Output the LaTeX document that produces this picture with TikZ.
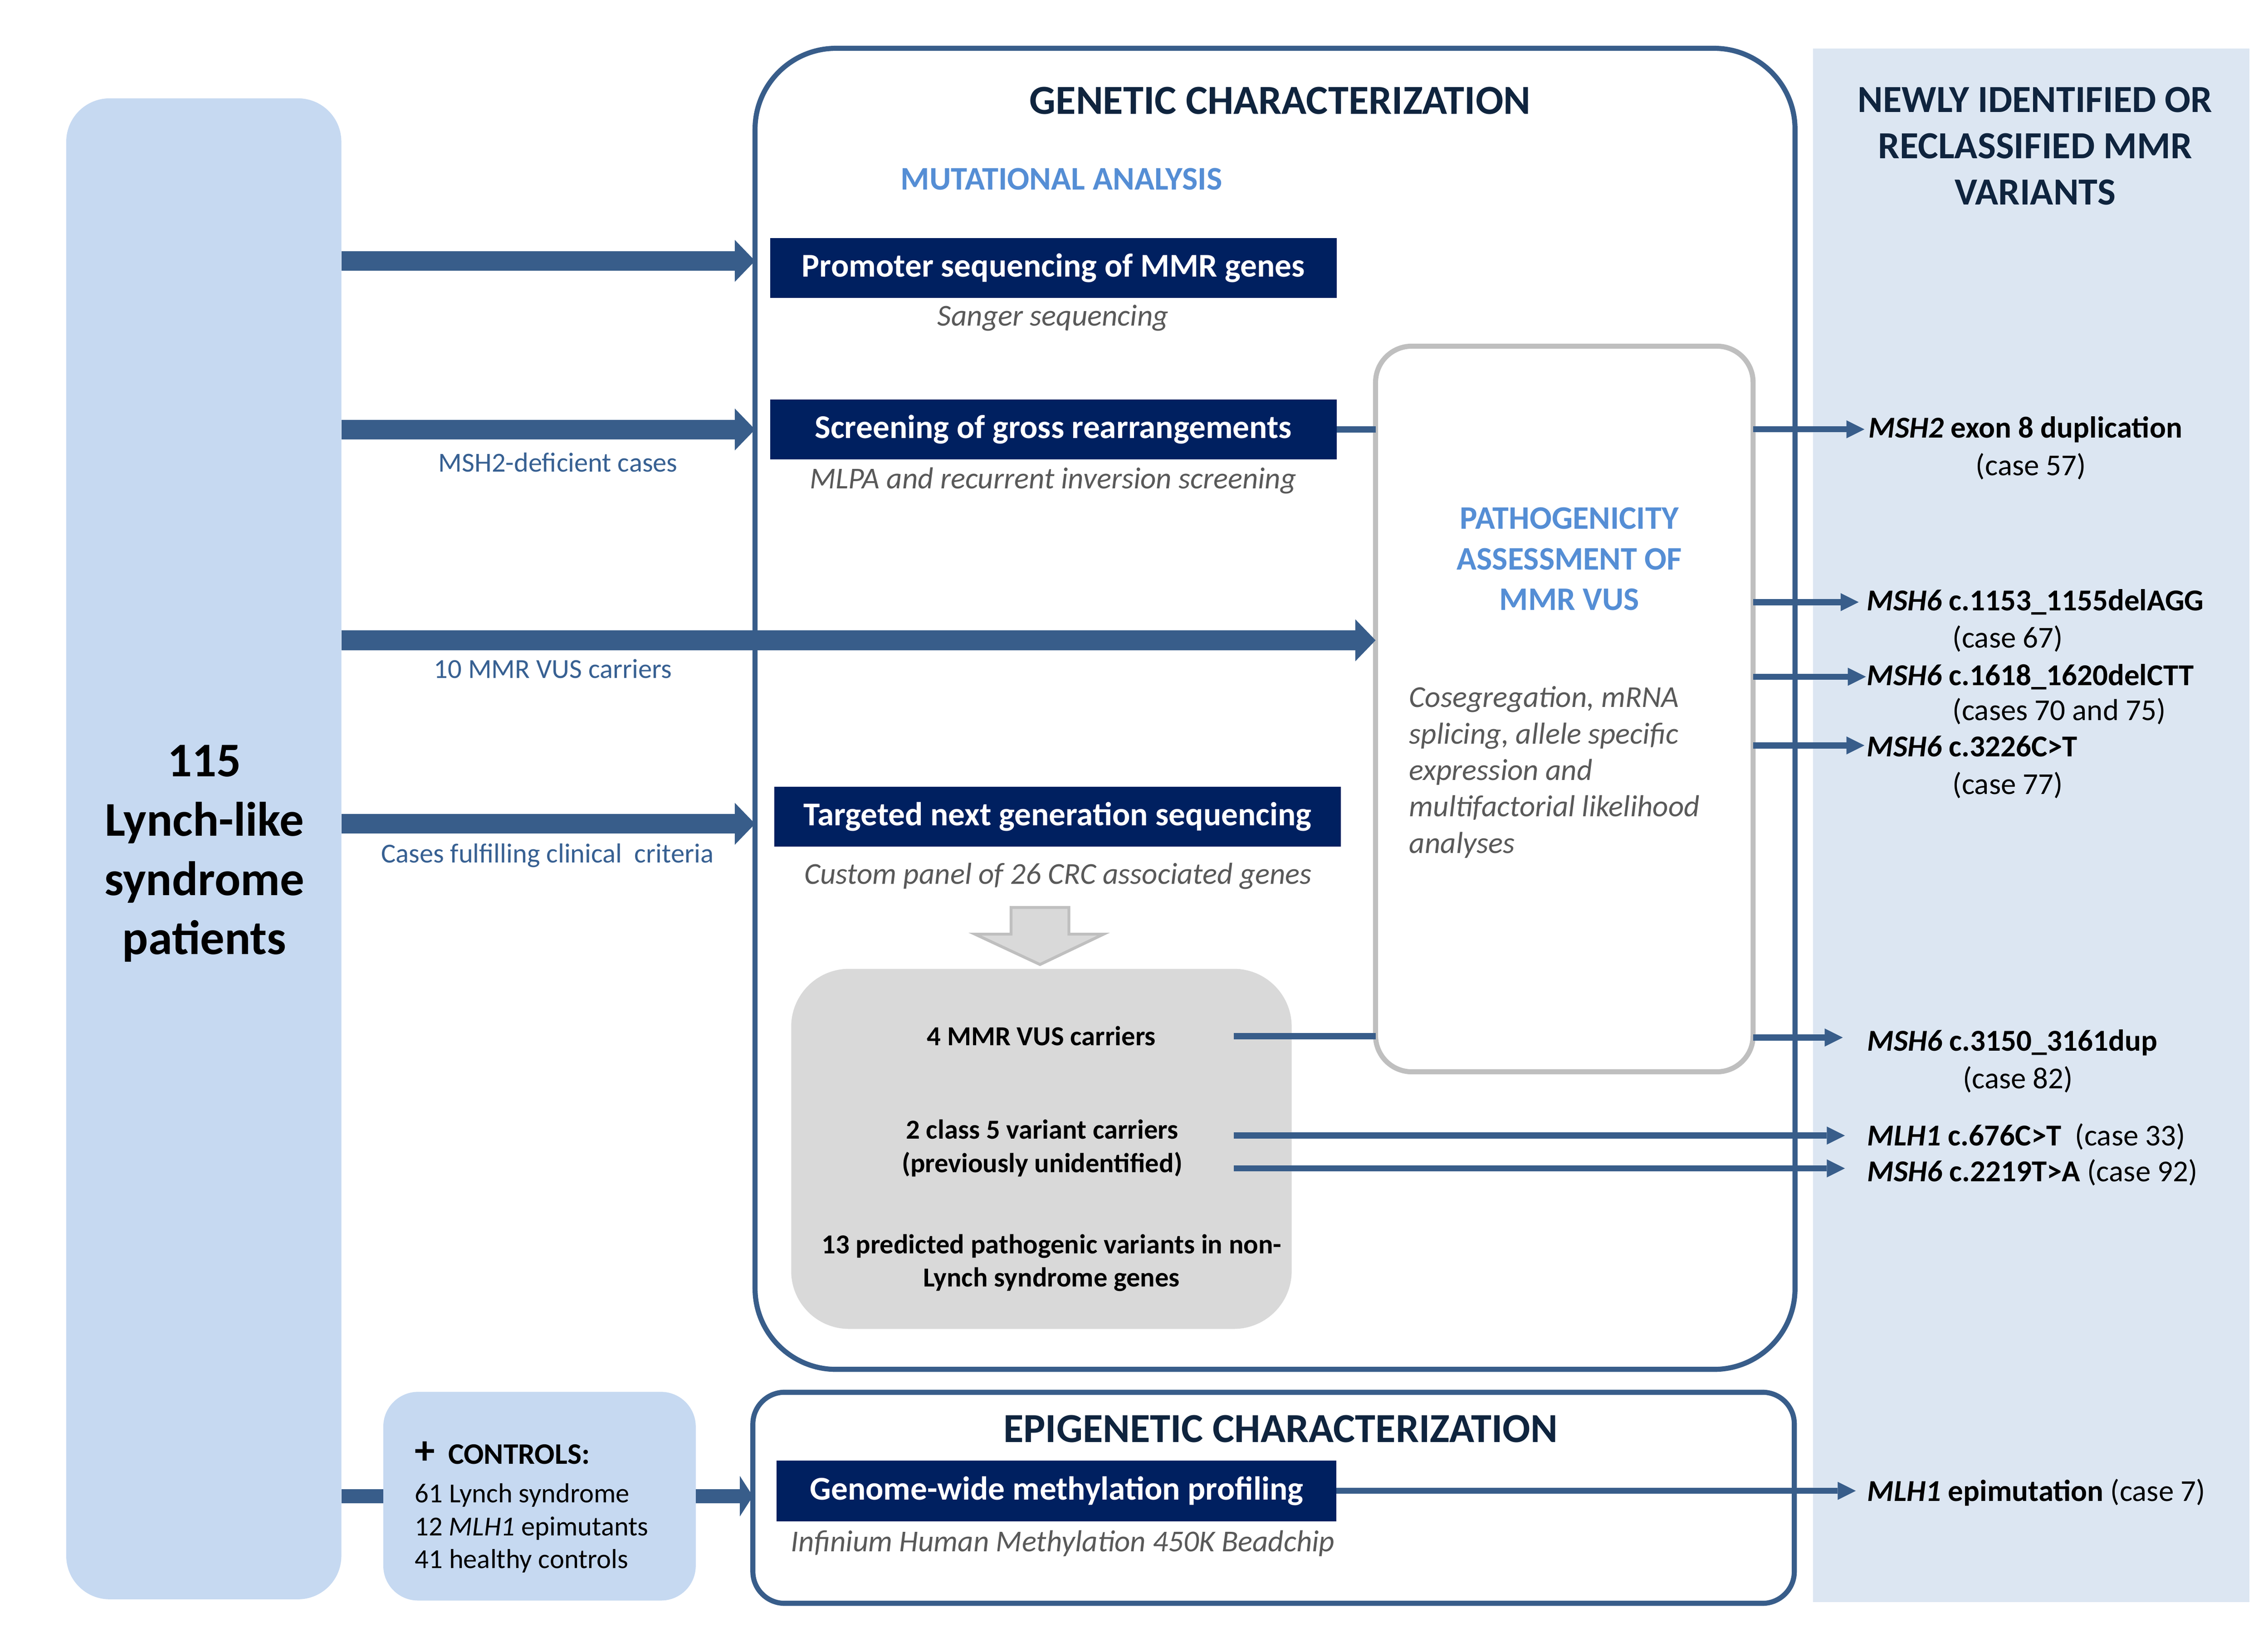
\documentclass[tikz,border=0pt]{standalone}
\usepackage{fontspec}
\setmainfont{Carlito}
\usetikzlibrary{arrows.meta}
\definecolor{lineblue}{HTML}{385D8A}
\definecolor{navy}{HTML}{002060}
\definecolor{titlenavy}{HTML}{0F243E}
\definecolor{accent}{HTML}{558ED5}
\definecolor{leftfill}{HTML}{C6D9F1}
\definecolor{rightfill}{HTML}{DCE6F2}
\definecolor{subgray}{HTML}{595959}
\definecolor{pathogray}{HTML}{BFBFBF}
\definecolor{boxgray}{HTML}{D9D9D9}
\definecolor{lbltext}{HTML}{376092}
\newcommand{\myfs}[2]{\fontsize{#1}{#2}\selectfont}
\begin{document}
\begin{tikzpicture}[x=1pt,y=-1pt,
  box/.style={inner sep=0pt, outer sep=0pt},
  navybox/.style={box, fill=navy, text=white, font=\myfs{23}{27}\bfseries, minimum width=391.5pt, minimum height=41.5pt},
  subtext/.style={box, text=subgray, font=\myfs{21}{25}\itshape},
  lbl/.style={box, text=lbltext, font=\myfs{19}{23}},
  bigarrow/.style={line width=13.5pt, draw=lineblue, -{Triangle[length=14pt,width=29pt,line width=0pt]}},
  smallbig/.style={line width=10pt, draw=lineblue, -{Triangle[length=9pt,width=28pt,line width=0pt]}},
  thinline/.style={line width=4.2pt, draw=lineblue},
  thinarrow/.style={thinline, -{Triangle[length=12.5pt,width=12.5pt,line width=0pt]}},
  variant/.style={box, anchor=west, font=\myfs{21}{25}},
  graytext/.style={box, align=center, font=\myfs{19}{23}\bfseries},
  ctrltext/.style={box, anchor=west, font=\myfs{19}{23}},
]
\fill[white] (0,0) rectangle (1568,1135.4);
\useasboundingbox (0,0) rectangle (1568,1135.4);

% right column
\node[box, fill=rightfill, minimum width=301.5pt, minimum height=1074.6pt] (rcol) at (1404.25,570.7) {};
\node[box, align=center, text=titlenavy, font=\myfs{26.5}{32}\bfseries] (rtitle) at (1407,101) {NEWLY IDENTIFIED OR\\RECLASSIFIED MMR\\VARIANTS};

% genetic characterization frame
\node[box, draw=lineblue, line width=3.5pt, rounded corners=56pt, minimum width=719pt, minimum height=913.6pt] (gen) at (881.5,490.2) {};
\node[box, text=titlenavy, font=\myfs{28.5}{32}\bfseries] (gtitle) at (885,69.5) {GENETIC CHARACTERIZATION};
\node[box, text=accent, font=\myfs{22.8}{26}\bfseries] (mut) at (733.8,124) {MUTATIONAL ANALYSIS};

% epigenetic frame
\node[box, draw=lineblue, line width=3.5pt, rounded corners=22pt, minimum width=720pt, minimum height=146pt] (epi) at (880.5,1035.8) {};
\node[box, text=titlenavy, font=\myfs{28.5}{32}\bfseries] (etitle) at (885.3,988) {EPIGENETIC CHARACTERIZATION};

% left patients box
\node[box, fill=leftfill, rounded corners=30pt, minimum width=190.2pt, minimum height=1038pt] (left) at (140.9,587) {};
\node[box, align=center, font=\myfs{33.5}{41}\bfseries] (ltext) at (141.3,590.3) {115\\Lynch-like\\syndrome\\patients};

% controls box
\node[box, fill=leftfill, rounded corners=24pt, minimum width=216pt, minimum height=144.3pt] (ctrl) at (373,1034.7) {};
\node[ctrltext, font=\myfs{20.6}{24}\bfseries] (chead) at (286.9,1004.9) {{\myfs{28}{30}+}\hspace{9pt}CONTROLS:};
\node[ctrltext] (c1) at (286.9,1034) {61 Lynch syndrome};
\node[ctrltext] (c2) at (286.9,1056.9) {12 \textit{MLH1} epimutants};
\node[ctrltext] (c3) at (286.9,1079.6) {41 healthy controls};

% pathogenicity box
\node[box, draw=pathogray, fill=white, line width=3.5pt, rounded corners=25pt, minimum width=261pt, minimum height=501.8pt] (patho) at (1081.5,490.3) {};
\node[box, align=center, text=accent, font=\myfs{22.7}{28}\bfseries] (ptitle) at (1085,386.6) {PATHOGENICITY\\ASSESSMENT OF\\MMR VUS};
\node[box, anchor=west, align=left, text=subgray, font=\myfs{21}{25.2}\itshape] (ptext) at (974.3,534) {Cosegregation, mRNA\\splicing, allele specific\\expression and\\multifactorial likelihood\\analyses};

% grey results box
\node[box, fill=boxgray, rounded corners=40pt, minimum width=346pt, minimum height=249pt] (gbox) at (720,794.5) {};
\node[graytext] (vus4) at (720,716.5) {4 MMR VUS carriers};
\node[graytext] (cls5) at (720.5,794) {2 class 5 variant carriers\\(previously unidentified)};
\node[graytext] (pred) at (727,873.3) {13 predicted pathogenic variants in non-\\Lynch syndrome genes};

% block arrow
\draw[fill=boxgray, draw=pathogray, line width=2pt, line join=miter] (699,627.6) -- (739,627.6) -- (739,646) -- (763,646) -- (719,667) -- (674,646) -- (699,646) -- cycle;

% navy method boxes
\node[navybox] (promo) at (728.3,185.3) {Promoter sequencing of MMR genes};
\node[subtext] (sanger) at (728,220) {Sanger sequencing};
\node[navybox] (screen) at (728.3,297) {Screening of gross rearrangements};
\node[subtext] (mlpa) at (728,332.4) {MLPA and recurrent inversion screening};
\node[navybox] (ngs) at (731.2,564.8) {Targeted next generation sequencing};
\node[subtext] (panel) at (731.5,606) {Custom panel of 26 CRC associated genes};
\node[navybox, minimum width=387pt, minimum height=42pt] (genome) at (730.5,1031) {Genome-wide methylation profiling};
\node[subtext] (infin) at (734.8,1067.5) {Infinium Human Methylation 450K Beadchip};

% thick arrows from patients
\coordinate (a1) at (0,180.4);
\coordinate (a3) at (0,442.8);
\coordinate (a4) at (0,569.7);
\draw[bigarrow] (left.east |- a1) -- (gen.west |- a1);
\draw[bigarrow] (left.east |- screen.west) -- (gen.west |- screen.west);
\draw[bigarrow] (left.east |- a3) -- (patho.west |- a3);
\draw[bigarrow] (left.east |- a4) -- (gen.west |- a4);
\draw[line width=10pt, draw=lineblue] (left.east |- ctrl.west) -- (ctrl.west);
\draw[smallbig] (ctrl.east) -- (epi.west |- ctrl.east);

\node[lbl] (l2) at (385.8,319.8) {MSH2-deficient cases};
\node[lbl] (l3) at (382.3,462.4) {10 MMR VUS carriers};
\node[lbl] (l4) at (378.5,591.8) {Cases fulfilling clinical\ \ criteria};

% thin connectors
\draw[thinline] (screen.east) -- (patho.west |- screen.east);
\coordinate (c4) at (853,716.6);
\draw[thinline] (c4) -- (patho.west |- c4);

% variants
\node[variant] (v57) at (1292,297) {\textbf{\textit{MSH2} exon 8 duplication}};
\node[variant] (v57b) at (1366,322.5) {(case 57)};
\node[variant] (v67) at (1290.6,416.5) {\textbf{\textit{MSH6} c.1153\_1155delAGG}};
\node[variant] (v67b) at (1350,441.6) {(case 67)};
\node[variant] (v75) at (1290.6,468) {\textbf{\textit{MSH6} c.1618\_1620delCTT}};
\node[variant] (v75b) at (1350,492) {(cases 70 and 75)};
\node[variant] (v77) at (1290.6,516) {\textbf{\textit{MSH6} c.3226C>T}};
\node[variant] (v77b) at (1350,543) {(case 77)};
\node[variant] (v82) at (1291,721) {\textbf{\textit{MSH6} c.3150\_3161dup}};
\node[variant] (v82b) at (1357,746.5) {(case 82)};
\node[variant] (v33) at (1291,786) {\textbf{\textit{MLH1} c.676C>T}\ \ (case 33)};
\node[variant] (v92) at (1291,811) {\textbf{\textit{MSH6} c.2219T>A} (case 92)};
\node[variant] (v7) at (1291,1032) {\textbf{\textit{MLH1} epimutation} (case 7)};

\coordinate (t57) at (1289,296.9);
\coordinate (t67) at (1285,416.4);
\coordinate (t75) at (1290,468);
\coordinate (t77) at (1289,515.5);
\coordinate (t82) at (1274,717.5);
\coordinate (t33) at (1275.5,785.3);
\coordinate (t92) at (1275.5,808);
\coordinate (t7) at (1283,1031);
\coordinate (s33) at (853,785.3);
\coordinate (s92) at (853,808);
\draw[thinarrow] (patho.east |- t57) -- (t57);
\draw[thinarrow] (patho.east |- t67) -- (t67);
\draw[thinarrow] (patho.east |- t75) -- (t75);
\draw[thinarrow] (patho.east |- t77) -- (t77);
\draw[thinarrow] (patho.east |- t82) -- (t82);
\draw[thinarrow] (s33) -- (t33);
\draw[thinarrow] (s92) -- (t92);
\draw[thinarrow] (genome.east) -- (t7);
\end{tikzpicture}
\end{document}
